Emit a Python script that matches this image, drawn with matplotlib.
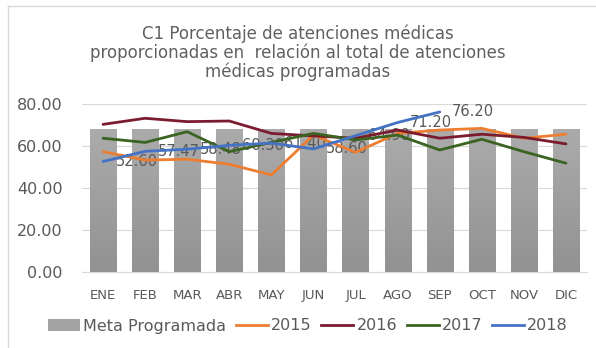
"""Porcentaje de atenciones médicas proporcionadas vs. programadas, 2015-2018."""
import matplotlib.pyplot as plt
import numpy as np
from matplotlib.colors import LinearSegmentedColormap
from matplotlib.lines import Line2D
from matplotlib.patches import Patch

meses = ["ENE", "FEB", "MAR", "ABR", "MAY", "JUN", "JUL", "AGO", "SEP", "OCT", "NOV", "DIC"]
meta = [68, 68, 68, 68, 68, 68, 68, 68, 68, 68, 68, 68]
serie_2015 = [57.3, 53.3, 53.7, 51.3, 46.2, 65.2, 57.0, 66.0, 67.6, 68.4, 63.7, 65.6]
serie_2016 = [70.3, 73.2, 71.6, 71.9, 66.0, 64.8, 63.7, 67.6, 63.7, 65.6, 64.1, 61.0]
serie_2017 = [63.7, 61.7, 66.8, 57.3, 61.7, 66.0, 62.9, 65.2, 58.1, 63.2, 57.3, 51.8]
serie_2018 = [52.60, 57.47, 58.48, 60.30, 61.40, 58.60, 64.90, 71.20, 76.20]

ink = "#595959"
colores = {
    "2015": "#ED7D31",
    "2016": "#7B1C2E",
    "2017": "#3B6322",
    "2018": "#4472C4",
}

plt.rcParams["font.family"] = ["DejaVu Sans"]

fig = plt.figure(figsize=(5.96, 3.48), dpi=100)
fig.patch.set_facecolor("white")

# marco del gráfico
fig.add_artist(Line2D([8 / 596, 8 / 596], [0, 1 - 6 / 348], transform=fig.transFigure,
                      color="#d9d9d9", linewidth=1))
fig.add_artist(Line2D([8 / 596, 1], [1 - 6 / 348, 1 - 6 / 348], transform=fig.transFigure,
                      color="#d9d9d9", linewidth=1))

ax = fig.add_axes([82 / 596, 1 - 272 / 348, 505 / 596, 168 / 348])
x = np.arange(len(meses))

# barras de la meta con degradado vertical
barras = ax.bar(x, meta, width=0.62, color="#a3a3a3", zorder=2, label="Meta Programada")
degradado = LinearSegmentedColormap.from_list("gris", ["#929292", "#ababab"])
for barra in barras:
    x0, y0 = barra.get_x(), barra.get_y()
    w, h = barra.get_width(), barra.get_height()
    img = ax.imshow(np.linspace(0, 1, 64).reshape(-1, 1), cmap=degradado, origin="lower",
                    extent=(x0, x0 + w, y0, y0 + h), aspect="auto", zorder=2.1)
    img.set_clip_path(barra)

for anio, valores in [("2015", serie_2015), ("2016", serie_2016),
                      ("2017", serie_2017), ("2018", serie_2018)]:
    ax.plot(np.arange(len(valores)), valores, color=colores[anio], linewidth=2.0,
            solid_capstyle="round", zorder=4, label=anio)

# etiquetas de datos para 2018
for i, v in enumerate(serie_2018):
    ax.annotate(f"{v:.2f}", (i, v), xytext=(9, 0), textcoords="offset points",
                ha="left", va="center", fontsize=10.5, color=ink, zorder=3)

ax.set_xlim(-0.5, len(meses) - 0.5)
ax.set_ylim(0, 80)
ax.set_yticks([0, 20, 40, 60, 80])
ax.set_yticklabels([f"{t:.2f}" for t in [0, 20, 40, 60, 80]], fontsize=11.5, color=ink)
ax.set_xticks(x, meses, fontsize=9.5, color=ink)
ax.tick_params(axis="both", length=0)
ax.tick_params(axis="y", pad=14)
ax.tick_params(axis="x", pad=12)
ax.grid(axis="y", color="#d9d9d9", linewidth=0.8, zorder=0)
ax.set_axisbelow(True)
for lado in ["top", "right", "left"]:
    ax.spines[lado].set_visible(False)
ax.spines["bottom"].set_color("#d9d9d9")

fig.text(0.5, 1 - 53 / 348,
         "C1 Porcentaje de atenciones médicas\n"
         "proporcionadas en  relación al total de atenciones\n"
         "médicas programadas",
         ha="center", va="center", fontsize=12, color="#606060", linespacing=1.05)

handles = [Patch(facecolor="#a3a3a3", edgecolor="none", label="Meta Programada")]
handles += [Line2D([0], [0], color=colores[a], linewidth=2, label=a)
            for a in ["2015", "2016", "2017", "2018"]]
fig.legend(handles=handles, loc="center", bbox_to_anchor=(308 / 596, 1 - 326 / 348), ncol=5,
           frameon=False, fontsize=11.5, labelcolor=ink, handlelength=2.0,
           handletextpad=0.2, columnspacing=0.6)

fig.savefig("out.png", dpi=100, facecolor="white")
